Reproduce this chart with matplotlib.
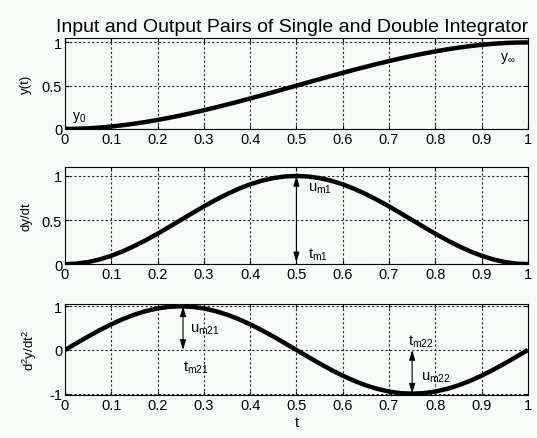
import matplotlib
matplotlib.use("Agg")
import matplotlib.pyplot as plt

plt.rcParams['font.family'] = ['Liberation Sans', 'DejaVu Sans']
plt.rcParams['mathtext.default'] = 'regular'

# time samples and the three curves (position, velocity, acceleration)
t = [0.0, 0.025, 0.05, 0.075, 0.1, 0.125, 0.15, 0.175, 0.2, 0.225,
     0.25, 0.275, 0.3, 0.325, 0.35, 0.375, 0.4, 0.425, 0.45, 0.475,
     0.5, 0.525, 0.55, 0.575, 0.6, 0.625, 0.65, 0.675, 0.7, 0.725,
     0.75, 0.775, 0.8, 0.825, 0.85, 0.875, 0.9, 0.925, 0.95, 0.975, 1.0]

y = [0.0, 0.002, 0.007, 0.016, 0.028, 0.043, 0.061, 0.081, 0.104, 0.129,
     0.156, 0.185, 0.216, 0.248, 0.282, 0.316, 0.352, 0.388, 0.425, 0.463,
     0.5, 0.538, 0.575, 0.612, 0.648, 0.684, 0.718, 0.752, 0.784, 0.815,
     0.844, 0.871, 0.896, 0.919, 0.939, 0.957, 0.972, 0.984, 0.993, 0.998, 1.0]

dy = [0.0, 0.006, 0.024, 0.054, 0.095, 0.146, 0.206, 0.273, 0.345, 0.422,
      0.5, 0.578, 0.655, 0.727, 0.794, 0.854, 0.905, 0.946, 0.976, 0.994,
      1.0, 0.994, 0.976, 0.946, 0.905, 0.854, 0.794, 0.727, 0.655, 0.578,
      0.5, 0.422, 0.345, 0.273, 0.206, 0.146, 0.095, 0.054, 0.024, 0.006, 0.0]

d2y = [0.0, 0.156, 0.309, 0.454, 0.588, 0.707, 0.809, 0.891, 0.951, 0.988,
       1.0, 0.988, 0.951, 0.891, 0.809, 0.707, 0.588, 0.454, 0.309, 0.156,
       0.0, -0.156, -0.309, -0.454, -0.588, -0.707, -0.809, -0.891, -0.951, -0.988,
       -1.0, -0.988, -0.951, -0.891, -0.809, -0.707, -0.588, -0.454, -0.309, -0.156, 0.0]

xticks = [0, 0.1, 0.2, 0.3, 0.4, 0.5, 0.6, 0.7, 0.8, 0.9, 1]
xticklabels = ['0', '0.1', '0.2', '0.3', '0.4', '0.5', '0.6', '0.7', '0.8', '0.9', '1']

bg = '#f7fbf7'
fig = plt.figure(figsize=(5.37, 4.39), dpi=100, facecolor=bg)

ax1 = fig.add_axes([0.121, 0.704, 0.862, 0.207])
ax2 = fig.add_axes([0.121, 0.396, 0.862, 0.221])
ax3 = fig.add_axes([0.121, 0.098, 0.862, 0.207])

def style(ax, ylim, yticks, yticklabels, ylabel):
    ax.set_facecolor(bg)
    ax.set_xlim(0, 1)
    ax.set_ylim(*ylim)
    ax.set_xticks(xticks)
    ax.set_xticklabels(xticklabels)
    ax.set_yticks(yticks)
    ax.set_yticklabels(yticklabels)
    ax.grid(True, color='0.15', linestyle=(0, (2, 2)), linewidth=0.8)
    ax.tick_params(direction='in', length=3, labelsize=10.5, top=True, right=True, pad=2)
    ax.set_ylabel(ylabel, fontsize=9.5, labelpad=7)
    for s in ax.spines.values():
        s.set_linewidth(0.8)

ax1.plot(t, y, color='black', linewidth=3.2, solid_capstyle='butt')
style(ax1, (0, 1.05), [0, 0.5, 1], ['0', '0.5', '1'], 'y(t)')
ax1.set_title('Input and Output Pairs of Single and Double Integrator', fontsize=14, pad=5, x=0.49)
ax1.text(0.015, 0.11, 'y$_0$', fontsize=10)
ax1.text(0.94, 0.80, 'y$_\\infty$', fontsize=10)

ax2.plot(t, dy, color='black', linewidth=3.2, solid_capstyle='butt')
style(ax2, (0, 1.1), [0, 0.5, 1], ['0', '0.5', '1'], 'dy/dt')
arrow = dict(arrowstyle='<|-|>,head_length=0.6,head_width=0.18', color='black', lw=0.8,
             shrinkA=0, shrinkB=0)
ax2.annotate('', xy=(0.5, 1.0), xytext=(0.5, 0.02), arrowprops=arrow)
ax2.text(0.525, 0.83, 'u$_{m1}$', fontsize=10.5)
ax2.text(0.525, 0.08, 't$_{m1}$', fontsize=10.5)

ax3.plot(t, d2y, color='black', linewidth=3.2, solid_capstyle='butt')
style(ax3, (-1.03, 1.05), [-1, 0, 1], ['-1', '0', '1'], 'd$^2$y/dt$^2$')
ax3.set_xlabel('t', fontsize=10.5, labelpad=2)
ax3.annotate('', xy=(0.255, 1.0), xytext=(0.255, 0.0), arrowprops=arrow)
ax3.text(0.27, 0.42, 'u$_{m21}$', fontsize=10.5)
ax3.text(0.255, -0.48, 't$_{m21}$', fontsize=10.5)
ax3.annotate('', xy=(0.75, -1.0), xytext=(0.75, 0.0), arrowprops=arrow)
ax3.text(0.74, 0.12, 't$_{m22}$', fontsize=10.5)
ax3.text(0.77, -0.68, 'u$_{m22}$', fontsize=10.5)

fig.savefig('out.png', dpi=100, facecolor=bg)
